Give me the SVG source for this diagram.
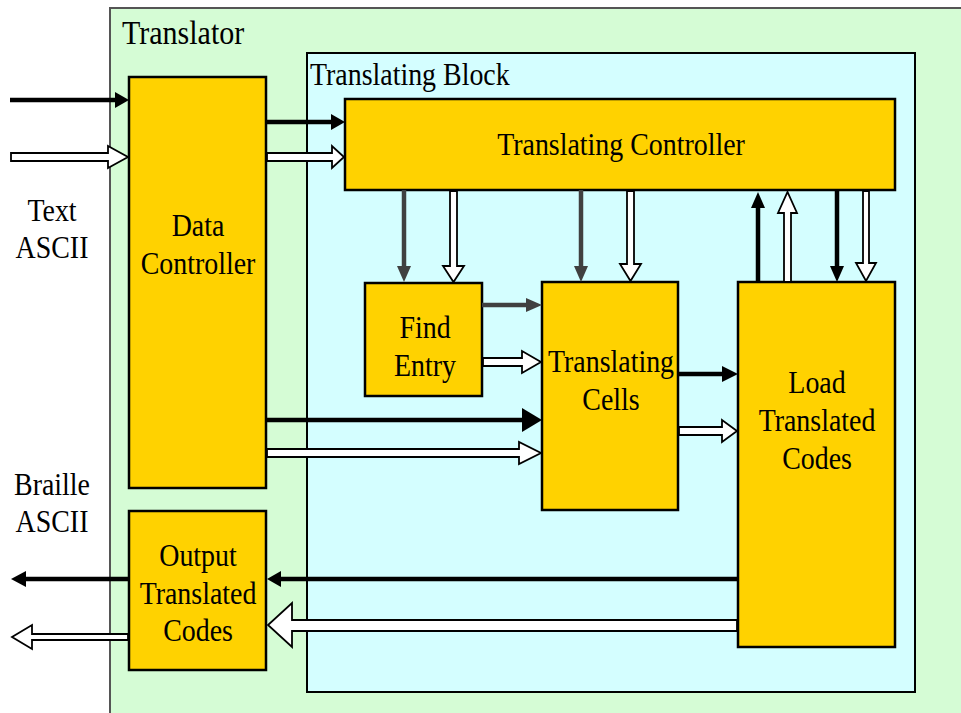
<svg xmlns="http://www.w3.org/2000/svg" width="961" height="713" viewBox="0 0 961 713">
<style>
.box{fill:#FFD200;stroke:#000;stroke-width:2.5}
.t{font-family:"Liberation Serif","Times New Roman",serif;font-size:31px;fill:#000;text-anchor:middle}
.tl{font-family:"Liberation Serif","Times New Roman",serif;fill:#000}
.sl{stroke:#000;stroke-width:4.5;fill:none}
.sh{fill:#000;stroke:none}
.gl{stroke:#404040;stroke-width:4.5;fill:none}
.gh{fill:#404040;stroke:none}
.ho{fill:#fff;stroke:#000;stroke-width:1.8;stroke-linejoin:miter}
</style>
<rect width="961" height="713" fill="#fff"/>
<g id="translator">
<rect x="110" y="8" width="870" height="720" fill="#D5FCD5" stroke="#555" stroke-width="2"/>
<text class="tl" transform="translate(122,44) scale(0.91,1)" font-size="33">Translator</text>
</g>
<g id="translating-block">
<rect x="307" y="53" width="608" height="639" fill="#D4FEFF" stroke="#000" stroke-width="2"/>
<text class="tl" transform="translate(310,85) scale(0.9,1)" font-size="31">Translating Block</text>
</g>
<g id="io-labels">
<text class="t" transform="translate(52,221) scale(0.9,1)">Text</text>
<text class="t" transform="translate(52,258) scale(0.9,1)">ASCII</text>
<text class="t" transform="translate(52,495) scale(0.9,1)">Braille</text>
<text class="t" transform="translate(52,532) scale(0.9,1)">ASCII</text>
</g>
<g id="data-controller">
<rect class="box" x="129" y="77" width="137" height="411"/>
<text class="t" transform="translate(198,236) scale(0.9,1)">Data</text>
<text class="t" transform="translate(198,274) scale(0.9,1)">Controller</text>
</g>
<g id="translating-controller">
<rect class="box" x="345" y="99" width="550" height="91"/>
<text class="t" transform="translate(621,155) scale(0.9,1)">Translating Controller</text>
</g>
<g id="find-entry">
<rect class="box" x="365" y="283" width="117" height="113"/>
<text class="t" transform="translate(425,338) scale(0.9,1)">Find</text>
<text class="t" transform="translate(425,376) scale(0.9,1)">Entry</text>
</g>
<g id="translating-cells">
<rect class="box" x="542" y="282" width="136" height="228"/>
<text class="t" transform="translate(611,372) scale(0.9,1)">Translating</text>
<text class="t" transform="translate(611,410) scale(0.9,1)">Cells</text>
</g>
<g id="load-translated-codes">
<rect class="box" x="738" y="282" width="157" height="365"/>
<text class="t" transform="translate(817,393) scale(0.9,1)">Load</text>
<text class="t" transform="translate(817,431) scale(0.9,1)">Translated</text>
<text class="t" transform="translate(817,469) scale(0.9,1)">Codes</text>
</g>
<g id="output-translated-codes">
<rect class="box" x="129" y="511" width="137" height="159"/>
<text class="t" transform="translate(198,566) scale(0.9,1)">Output</text>
<text class="t" transform="translate(198,604) scale(0.9,1)">Translated</text>
<text class="t" transform="translate(198,641) scale(0.9,1)">Codes</text>
</g>
<g id="connectors">
<line class="sl" x1="10" y1="100" x2="117" y2="100"/>
<polygon class="sh" points="115,92 129,100 115,108"/>
<polygon class="ho" points="11,153 108,153 108,146 128,157 108,168 108,161 11,161"/>
<line class="sl" x1="266" y1="122" x2="333" y2="122"/>
<polygon class="sh" points="331,114 345,122 331,130"/>
<polygon class="ho" points="267,153 332,153 332,146 344,157 332,168 332,161 267,161"/>
<line class="sl" x1="266" y1="420" x2="524" y2="420"/>
<polygon class="sh" points="522,408 542,420 522,432"/>
<polygon class="ho" points="267,449 519,449 519,442 541,453 519,464 519,457 267,457"/>
<line class="gl" x1="404" y1="190" x2="404" y2="268"/>
<polygon class="gh" points="397,266 404,282 411,266"/>
<polygon class="ho" points="450,191 450,266 443,266 453.5,282 464,266 457,266 457,191"/>
<line class="gl" x1="581" y1="190" x2="581" y2="268"/>
<polygon class="gh" points="574,266 581,282 588,266"/>
<polygon class="ho" points="627,191 627,264 620,264 630.5,281 641,264 634,264 634,191"/>
<line class="sl" x1="758" y1="283" x2="758" y2="206"/>
<polygon class="sh" points="751,208 758,192 765,208"/>
<polygon class="ho" points="784,282 784,213 778,213 787.5,192 797,213 791,213 791,282"/>
<line class="sl" x1="837" y1="190" x2="837" y2="268"/>
<polygon class="sh" points="830,266 837,282 844,266"/>
<polygon class="ho" points="863,191 863,263 856,263 866,281 876,263 869,263 869,191"/>
<line class="gl" x1="482" y1="305" x2="528" y2="305"/>
<polygon class="gh" points="526,298 542,305 526,312"/>
<polygon class="ho" points="483,358 522,358 522,351 541,362 522,373 522,366 483,366"/>
<line class="sl" x1="678" y1="374" x2="724" y2="374"/>
<polygon class="sh" points="722,366 738,374 722,382"/>
<polygon class="ho" points="679,427 722,427 722,420 737,431 722,442 722,435 679,435"/>
<line class="sl" x1="738" y1="579" x2="279" y2="579"/>
<polygon class="sh" points="281,571 267,579 281,587"/>
<polygon class="ho" points="737,620 292,620 292,603 268,625 292,647 292,631 737,631"/>
<line class="sl" x1="129" y1="579" x2="24" y2="579"/>
<polygon class="sh" points="26,571 11,579 26,587"/>
<polygon class="ho" points="128,634 32,634 32,625 12,637 32,649 32,640 128,640"/>
</g>
</svg>
